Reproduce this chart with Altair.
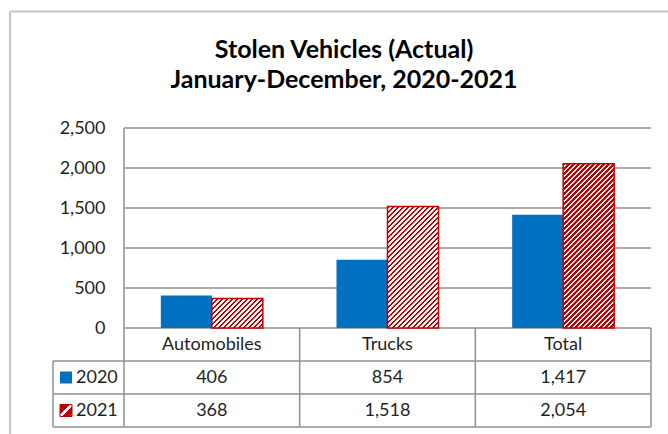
import altair as alt
import pandas as pd

# ---------------- data ----------------
categories = ["Automobiles", "Trucks", "Total"]
years = ["2020", "2021"]
values_2020 = [406, 854, 1417]
values_2021 = [368, 1518, 2054]
y_ticks = [0, 500, 1000, 1500, 2000, 2500]
title_lines = ["Stolen Vehicles (Actual)", "January-December, 2020-2021"]

# ---------------- style / layout ----------------
BLUE = "#0070C0"
RED = "#C00000"
GRID = "#8f8f8f"
FRAME = "#c4c4c4"
TEXT = "#1f1f1f"
FONT = "Lato"
FS = 18

TABLE_LEFT, PLOT_LEFT, PLOT_RIGHT = 53, 124, 651
PLOT_TOP, ZERO_Y, ROW_H = 128, 328, 33
Y_MAX = 2500
BAR_PX = 51
STRIPE = 5.0
TITLE_X, TITLE_BASELINES, TITLE_FS = 344, [58, 88], 25

n = len(categories)
PX_X = (PLOT_RIGHT - PLOT_LEFT) / n
PX_Y = (ZERO_Y - PLOT_TOP) / Y_MAX
TABLE_BOTTOM = ZERO_Y + 3 * ROW_H
W = PLOT_RIGHT - TABLE_LEFT
H = TABLE_BOTTOM - PLOT_TOP


def ux(px):
    return (px - PLOT_LEFT) / PX_X


def uy(py):
    return (ZERO_Y - py) / PX_Y


x_scale = alt.Scale(domain=[ux(TABLE_LEFT), ux(PLOT_RIGHT)], nice=False, zero=False)
y_scale = alt.Scale(domain=[uy(TABLE_BOTTOM), uy(PLOT_TOP)], nice=False, zero=False)
y_axis = alt.Axis(values=y_ticks, format=",.0f", grid=False, domain=False, ticks=False,
                  labelFont=FONT, labelFontSize=FS, labelColor=TEXT, labelPadding=19,
                  labelFlush=False, labelOverlap=False, offset=-(PLOT_LEFT - TABLE_LEFT),
                  title=None)


def X(f):
    return alt.X(f, type="quantitative", scale=x_scale, axis=None)


def Y(f):
    return alt.Y(f, type="quantitative", scale=y_scale, axis=y_axis)


def hatch(w, h, period=STRIPE, c1=RED, c2="white"):
    k = (w + h) / (w * w + h * h)
    p = period / (w + h)
    stops = []
    o = 0.0
    while o < 1 - 1e-9:
        a = min(o + p / 2, 1.0)
        b = min(o + p, 1.0)
        stops += [
            {"offset": round(o, 5), "color": c1},
            {"offset": round(a, 5), "color": c1},
            {"offset": round(a, 5), "color": c2},
            {"offset": round(b, 5), "color": c2},
        ]
        o += p
    return {"gradient": "linear", "x1": 0, "y1": 0,
            "x2": round(w * k, 5), "y2": round(h * k, 5), "stops": stops}


bar_w = BAR_PX / PX_X
bars = []
for i, c in enumerate(categories):
    bars.append({"category": c, "year": years[0], "value": values_2020[i],
                 "x0": i + 0.5 - bar_w, "x1": i + 0.5, "base": 0})
    bars.append({"category": c, "year": years[1], "value": values_2021[i],
                 "x0": i + 0.5, "x1": i + 0.5 + bar_w, "base": 0})
bars_df = pd.DataFrame(bars)

layers = []

# frame
frame_df = pd.DataFrame([
    {"x": ux(10), "x2": ux(720), "y": uy(11.5), "y2": uy(11.5)},
    {"x": ux(10), "x2": ux(10), "y": uy(11.5), "y2": uy(480)},
])
layers.append(alt.Chart(frame_df).mark_rule(color=FRAME, strokeWidth=2).encode(
    x=X("x"), x2="x2", y=Y("y"), y2="y2"))

# title (two lines)
title_df = pd.DataFrame({"line": title_lines, "x": [ux(TITLE_X)] * 2,
                         "y": [uy(b) for b in TITLE_BASELINES]})
layers.append(alt.Chart(title_df).mark_text(font=FONT, fontSize=TITLE_FS, fontWeight="bold",
                                            color="black", align="center",
                                            baseline="alphabetic").encode(
    x=X("x"), y=Y("y"), text="line:N"))

# grid + table lines
lines = []
for t in y_ticks[1:]:
    lines.append({"x": 0, "x2": n, "y": t, "y2": t})
lines.append({"x": 0, "x2": n, "y": 0, "y2": 0})
for r in range(1, 4):
    yy = uy(ZERO_Y + r * ROW_H)
    lines.append({"x": ux(TABLE_LEFT), "x2": n, "y": yy, "y2": yy})
lines.append({"x": 0, "x2": 0, "y": Y_MAX, "y2": uy(TABLE_BOTTOM)})
for cidx in range(1, n + 1):
    lines.append({"x": cidx, "x2": cidx, "y": 0, "y2": uy(TABLE_BOTTOM)})
lines.append({"x": ux(TABLE_LEFT), "x2": ux(TABLE_LEFT), "y": uy(ZERO_Y + ROW_H),
              "y2": uy(TABLE_BOTTOM)})
lines_df = pd.DataFrame(lines)
layers.append(alt.Chart(lines_df).mark_rule(color=GRID, strokeWidth=1.5).encode(
    x=X("x"), x2="x2", y=Y("y"), y2="y2"))

# 2020 bars
layers.append(alt.Chart(bars_df).transform_filter(alt.datum.year == years[0])
              .mark_rect(color=BLUE).encode(x=X("x0"), x2="x1", y=Y("value"), y2="base"))

# 2021 bars (hatched, one gradient per bar)
for i, c in enumerate(categories):
    h = values_2021[i] * PX_Y
    layers.append(alt.Chart(bars_df)
                  .transform_filter((alt.datum.year == years[1]) & (alt.datum.category == c))
                  .mark_rect(fill=hatch(BAR_PX, h), stroke=RED, strokeWidth=1.5)
                  .encode(x=X("x0"), x2="x1", y=Y("value"), y2="base"))

# table header
header_df = pd.DataFrame({"category": categories,
                          "xc": [i + 0.5 for i in range(n)],
                          "y": [uy(ZERO_Y + ROW_H / 2)] * n})
layers.append(alt.Chart(header_df).mark_text(font=FONT, fontSize=FS, color=TEXT,
                                             align="center", baseline="middle").encode(
    x=X("xc"), y=Y("y"), text="category:N"))

# table values
cells = []
for r, (yr, vals) in enumerate([(years[0], values_2020), (years[1], values_2021)]):
    for i, v in enumerate(vals):
        cells.append({"year": yr, "value": v, "xc": i + 0.5,
                      "y": uy(ZERO_Y + ROW_H * (r + 1.5))})
cells_df = pd.DataFrame(cells)
layers.append(alt.Chart(cells_df).mark_text(font=FONT, fontSize=FS, color=TEXT,
                                            align="center", baseline="middle").encode(
    x=X("xc"), y=Y("y"), text=alt.Text("value:Q", format=",")))

# row labels
rl_df = pd.DataFrame({"year": years, "x": [ux(76)] * 2,
                      "y": [uy(ZERO_Y + ROW_H * 1.5), uy(ZERO_Y + ROW_H * 2.5)]})
layers.append(alt.Chart(rl_df).mark_text(font=FONT, fontSize=FS, color=TEXT,
                                         align="left", baseline="middle").encode(
    x=X("x"), y=Y("y"), text="year:N"))

# legend swatches
sw = []
for r in range(2):
    cy = ZERO_Y + ROW_H * (r + 1.5)
    sw.append({"year": years[r], "x": ux(60), "x2": ux(72), "y": uy(cy - 6), "y2": uy(cy + 6)})
sw_df = pd.DataFrame(sw)
layers.append(alt.Chart(sw_df).transform_filter(alt.datum.year == years[0])
              .mark_rect(color=BLUE).encode(x=X("x"), x2="x2", y=Y("y"), y2="y2"))
leg_grad = {"gradient": "linear", "x1": 0, "y1": 0, "x2": 1, "y2": 1,
            "stops": [{"offset": 0, "color": RED}, {"offset": 0.4, "color": RED},
                      {"offset": 0.4, "color": "white"}, {"offset": 0.6, "color": "white"},
                      {"offset": 0.6, "color": RED}, {"offset": 1, "color": RED}]}
layers.append(alt.Chart(sw_df).transform_filter(alt.datum.year == years[1])
              .mark_rect(fill=leg_grad, stroke=RED, strokeWidth=1).encode(
    x=X("x"), x2="x2", y=Y("y"), y2="y2"))

chart = alt.layer(*layers).properties(
    width=W, height=H,
    autosize=alt.AutoSizeParams(type="none"),
    padding={"left": TABLE_LEFT, "top": PLOT_TOP, "right": 668 - PLOT_RIGHT,
             "bottom": 434 - TABLE_BOTTOM},
    background="white",
).configure_view(stroke=None)

chart.save("out.html", embed_options={"renderer": "svg", "actions": False})
